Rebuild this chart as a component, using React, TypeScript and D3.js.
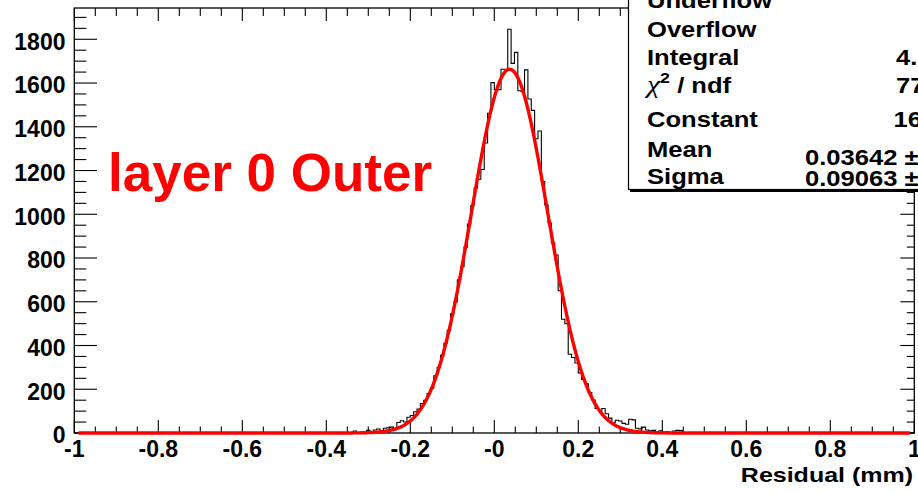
import React from 'react';
import * as d3 from 'd3';

const W = 918;
const H = 493;

// ---- data ----
const binWidth = 0.008;
const firstBinEdge = -0.36;
const counts = [
  0, 1, 0, 9, 2, 3, 2, 12, 6, 14,
  18, 11, 22, 24, 27, 18, 48, 56, 50, 72,
  80, 97, 110, 135, 150, 180, 205, 262, 300, 355,
  410, 470, 545, 600, 700, 760, 850, 955, 1040, 1120,
  1160, 1205, 1326, 1462, 1602, 1570, 1570, 1663, 1663, 1846,
  1690, 1740, 1565, 1560, 1660, 1527, 1475, 1345, 1381, 1150,
  1043, 960, 870, 814, 650, 520, 500, 360, 345, 320,
  275, 245, 225, 185, 151, 112, 100, 112, 88, 68,
  47, 58, 55, 44, 40, 63, 60, 22, 18, 27,
  14, 10, 12, 7, 10, 4, 6, 3, 9, 12,
  11, 2, 1,
];

// fit parameters shown in the stats box
const fitConstant = 1663;
const fitMean = 0.03642;
const fitSigma = 0.09063;

const xTickValues = [-1, -0.8, -0.6, -0.4, -0.2, 0, 0.2, 0.4, 0.6, 0.8, 1];
const xTickLabels = ['-1', '-0.8', '-0.6', '-0.4', '-0.2', '-0', '0.2', '0.4', '0.6', '0.8', '1'];
const yTickValues = [0, 200, 400, 600, 800, 1000, 1200, 1400, 1600, 1800];
const yTickLabels = ['0', '200', '400', '600', '800', '1000', '1200', '1400', '1600', '1800'];

const statsLabels = ['Underflow', 'Overflow', 'Integral', 'CHI', 'Constant', 'Mean', 'Sigma'];
const statsLabelBaselines = [7.5, 37, 64.5, 93, 126.5, 157, 183.5];
const statsValues = ['', '', '4.', '77', '166', '0.03642 \u00b1', '0.09063 \u00b1'];
const statsValueX = [0, 0, 896, 896, 893.5, 805, 805];
const statsValueBaselines = [7.5, 37, 64.5, 93, 126.5, 164.5, 185.5];

const titleX = 'Residual (mm)';
const label = 'layer 0 Outer';

const FONT = "'Liberation Sans', Arial, Helvetica, sans-serif";

export default function App() {
  const x = d3.scaleLinear().domain([-1, 1]).range([74.3, 914.3]);
  const y = d3.scaleLinear().domain([0, 1943]).range([433, 8]);

  const left = x(-1);
  const right = x(1);
  const top = y(1943);
  const bottom = y(0);

  // histogram outline
  let hist = `M${left},${bottom}H${x(firstBinEdge)}`;
  counts.forEach((c, i) => {
    const e1 = firstBinEdge + binWidth * (i + 1);
    hist += `V${y(c)}H${x(e1)}`;
  });
  hist += `V${bottom}H${right}`;

  // fit curve
  const fitXs = d3.range(-0.99, 0.99001, 0.002);
  const gauss = (v: number) => fitConstant * Math.exp(-0.5 * ((v - fitMean) / fitSigma) ** 2);
  const fitPath = d3
    .line<number>()
    .x((v) => x(v))
    .y((v) => y(gauss(v)))(fitXs) as string;

  const xMinor = d3.range(0, 41).map((k) => -1 + k * 0.05);
  const yMinor = d3.range(0, 39).map((k) => k * 50);
  const isMajorX = (v: number) => Math.abs(Math.round(v * 5) - v * 5) < 1e-6;
  const isMajorY = (v: number) => v % 200 === 0;

  return (
    <div style={{ position: 'absolute', left: 0, top: 0 }}>
      <svg width={W} height={H} viewBox={`0 0 ${W} ${H}`} style={{ display: 'block', background: '#fff' }}>
        <rect x={0} y={0} width={W} height={H} fill="#fff" />
        {/* frame */}
        <rect x={left} y={top} width={right - left} height={bottom - top} fill="#fff" stroke="#000" strokeWidth={1.3} />

        {/* x ticks bottom and top */}
        {xMinor.map((v, i) => {
          const major = isMajorX(v);
          const lb = major ? 13 : 6.5;
          const lt = major ? 13 : 8;
          return (
            <g key={'xt' + i}>
              <line x1={x(v)} x2={x(v)} y1={bottom} y2={bottom - lb} stroke="#000" strokeWidth={1.1} />
              <line x1={x(v)} x2={x(v)} y1={top} y2={top + lt} stroke="#000" strokeWidth={1.1} />
            </g>
          );
        })}
        {/* y ticks left and right */}
        {yMinor.map((v, i) => {
          const major = isMajorY(v);
          const ll = major ? 22.7 : 12;
          const lr = major ? 14 : 7.5;
          return (
            <g key={'yt' + i}>
              <line x1={left} x2={left + ll} y1={y(v)} y2={y(v)} stroke="#000" strokeWidth={1.1} />
              <line x1={right} x2={right - lr} y1={y(v)} y2={y(v)} stroke="#000" strokeWidth={1.1} />
            </g>
          );
        })}

        {/* histogram */}
        <path d={hist} fill="none" stroke="#000" strokeWidth={1.1} />
        {/* fit */}
        <path d={fitPath} fill="none" stroke="#ff0000" strokeWidth={3.4} strokeLinejoin="round" />

        {/* x tick labels */}
        {xTickValues.map((v, i) => (
          <text key={'xl' + i} x={x(v)} y={456.5} textAnchor="middle" fontFamily={FONT} fontWeight="bold" fontSize={23}>
            {xTickLabels[i]}
          </text>
        ))}
        {/* y tick labels */}
        {yTickValues.map((v, i) => (
          <text key={'yl' + i} x={65.5} y={y(v) + 10.3} textAnchor="end" fontFamily={FONT} fontWeight="bold" fontSize={23}>
            {yTickLabels[i]}
          </text>
        ))}

        {/* axis title */}
        <g transform={`translate(913,482) scale(1.19,1)`}>
          <text x={0} y={0} textAnchor="end" fontFamily={FONT} fontWeight="bold" fontSize={21}>
            {titleX}
          </text>
        </g>

        {/* label */}
        <text x={108} y={191} fill="#ff0000" fontFamily={FONT} fontWeight="bold" fontSize={53}>
          {label}
        </text>

        {/* stats box */}
        <rect x={630} y={-20} width={400} height={212} fill="#000" />
        <rect x={628.5} y={-20} width={400} height={209.5} fill="#fff" stroke="#000" strokeWidth={1.2} />
        {statsLabels.map((s, i) => (
          <g key={'sl' + i} transform={`translate(647,${statsLabelBaselines[i]}) scale(1.19,1)`}>
            {s === 'CHI' ? (
              <text x={0} y={0} fontFamily={FONT} fontWeight="bold" fontSize={21.5}>
                <tspan fontFamily="'Liberation Serif', 'DejaVu Serif', serif" fontWeight="normal" fontStyle="italic" fontSize={25}>
                  {'\u03c7'}
                </tspan>
                <tspan fontSize={15} dy={-10}>2</tspan>
                <tspan dy={10}>{' / ndf'}</tspan>
              </text>
            ) : (
              <text x={0} y={0} fontFamily={FONT} fontWeight="bold" fontSize={21.5}>
                {s}
              </text>
            )}
          </g>
        ))}
        {statsValues.map((s, i) =>
          s ? (
            <g key={'sv' + i} transform={`translate(${statsValueX[i]},${statsValueBaselines[i]}) scale(1.19,1)`}>
              <text x={0} y={0} fontFamily={FONT} fontWeight="bold" fontSize={21.5}>
                {s}
              </text>
            </g>
          ) : null
        )}
      </svg>
    </div>
  );
}
